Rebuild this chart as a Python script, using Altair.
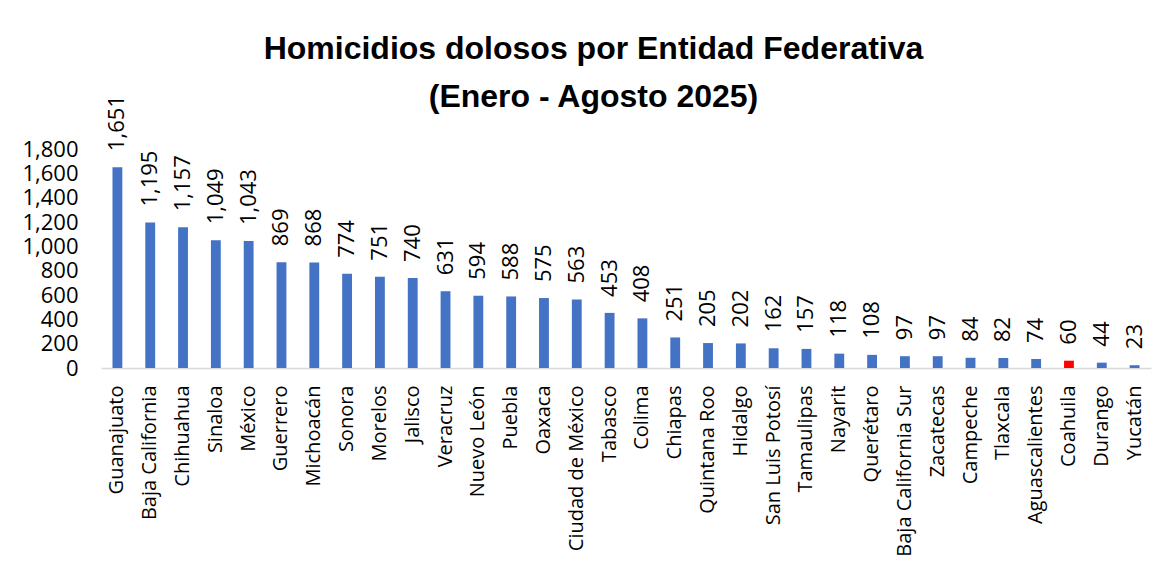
import altair as alt
import pandas as pd

estados = ["Guanajuato", "Baja California", "Chihuahua", "Sinaloa", "México", "Guerrero",
           "Michoacán", "Sonora", "Morelos", "Jalisco", "Veracruz", "Nuevo León", "Puebla",
           "Oaxaca", "Ciudad de México", "Tabasco", "Colima", "Chiapas", "Quintana Roo",
           "Hidalgo", "San Luis Potosí", "Tamaulipas", "Nayarit", "Querétaro",
           "Baja California Sur", "Zacatecas", "Campeche", "Tlaxcala", "Aguascalientes",
           "Coahuila", "Durango", "Yucatán"]
homicidios = [1651, 1195, 1157, 1049, 1043, 869, 868, 774, 751, 740, 631, 594, 588, 575,
              563, 453, 408, 251, 205, 202, 162, 157, 118, 108, 97, 97, 84, 82, 74, 60, 44, 23]
ticks_y = [0, 200, 400, 600, 800, 1000, 1200, 1400, 1600, 1800]
destacado = "Coahuila"

df = pd.DataFrame({"estado": estados, "valor": homicidios})
df["grupo"] = ["resaltado" if e == destacado else "normal" for e in estados]

FONT = "Open Sans"
TFONT = "Liberation Sans"

x_enc = alt.X("estado:N", sort=estados,
              scale=alt.Scale(paddingInner=0.7, paddingOuter=0.35),
              axis=alt.Axis(title=None, labelAngle=-90, labelFontSize=20, labelFont=FONT,
                            labelColor="#000000", ticks=False, domainColor="#d9d9d9",
                            domainWidth=1.5, labelPadding=17))
y_enc = alt.Y("valor:Q", scale=alt.Scale(domain=[0, 1800], nice=False),
              axis=alt.Axis(title=None, values=ticks_y, format=",d", labelOverlap=False,
                            grid=False, domain=False, ticks=False, labelFontSize=22,
                            labelFont=FONT, labelColor="#000000", labelPadding=23))

bars = alt.Chart(df).mark_bar().encode(
    x=x_enc, y=y_enc,
    color=alt.Color("grupo:N", scale=alt.Scale(domain=["normal", "resaltado"],
                                               range=["#4472C4", "#FF0000"]), legend=None),
)

labels = alt.Chart(df).mark_text(angle=270, align="left", baseline="middle", dx=16,
                                 fontSize=22, font=FONT, color="#000000").encode(
    x=x_enc, y=y_enc,
    text=alt.Text("valor:Q", format=",d"),
)

chart = alt.layer(bars, labels).properties(
    width=1050, height=219,
    title=alt.TitleParams(["Homicidios dolosos por Entidad Federativa", "(Enero - Agosto 2025)"],
                          fontSize=32, font=TFONT, fontWeight="bold", lineHeight=48,
                          color="#000000", offset=-19, anchor="middle", frame="bounds", dx=7),
    padding={"left": 13, "top": 25, "right": 10, "bottom": 0},
).configure_view(stroke=None)

chart.save("out.html", embed_options={"renderer": "svg", "actions": False})
